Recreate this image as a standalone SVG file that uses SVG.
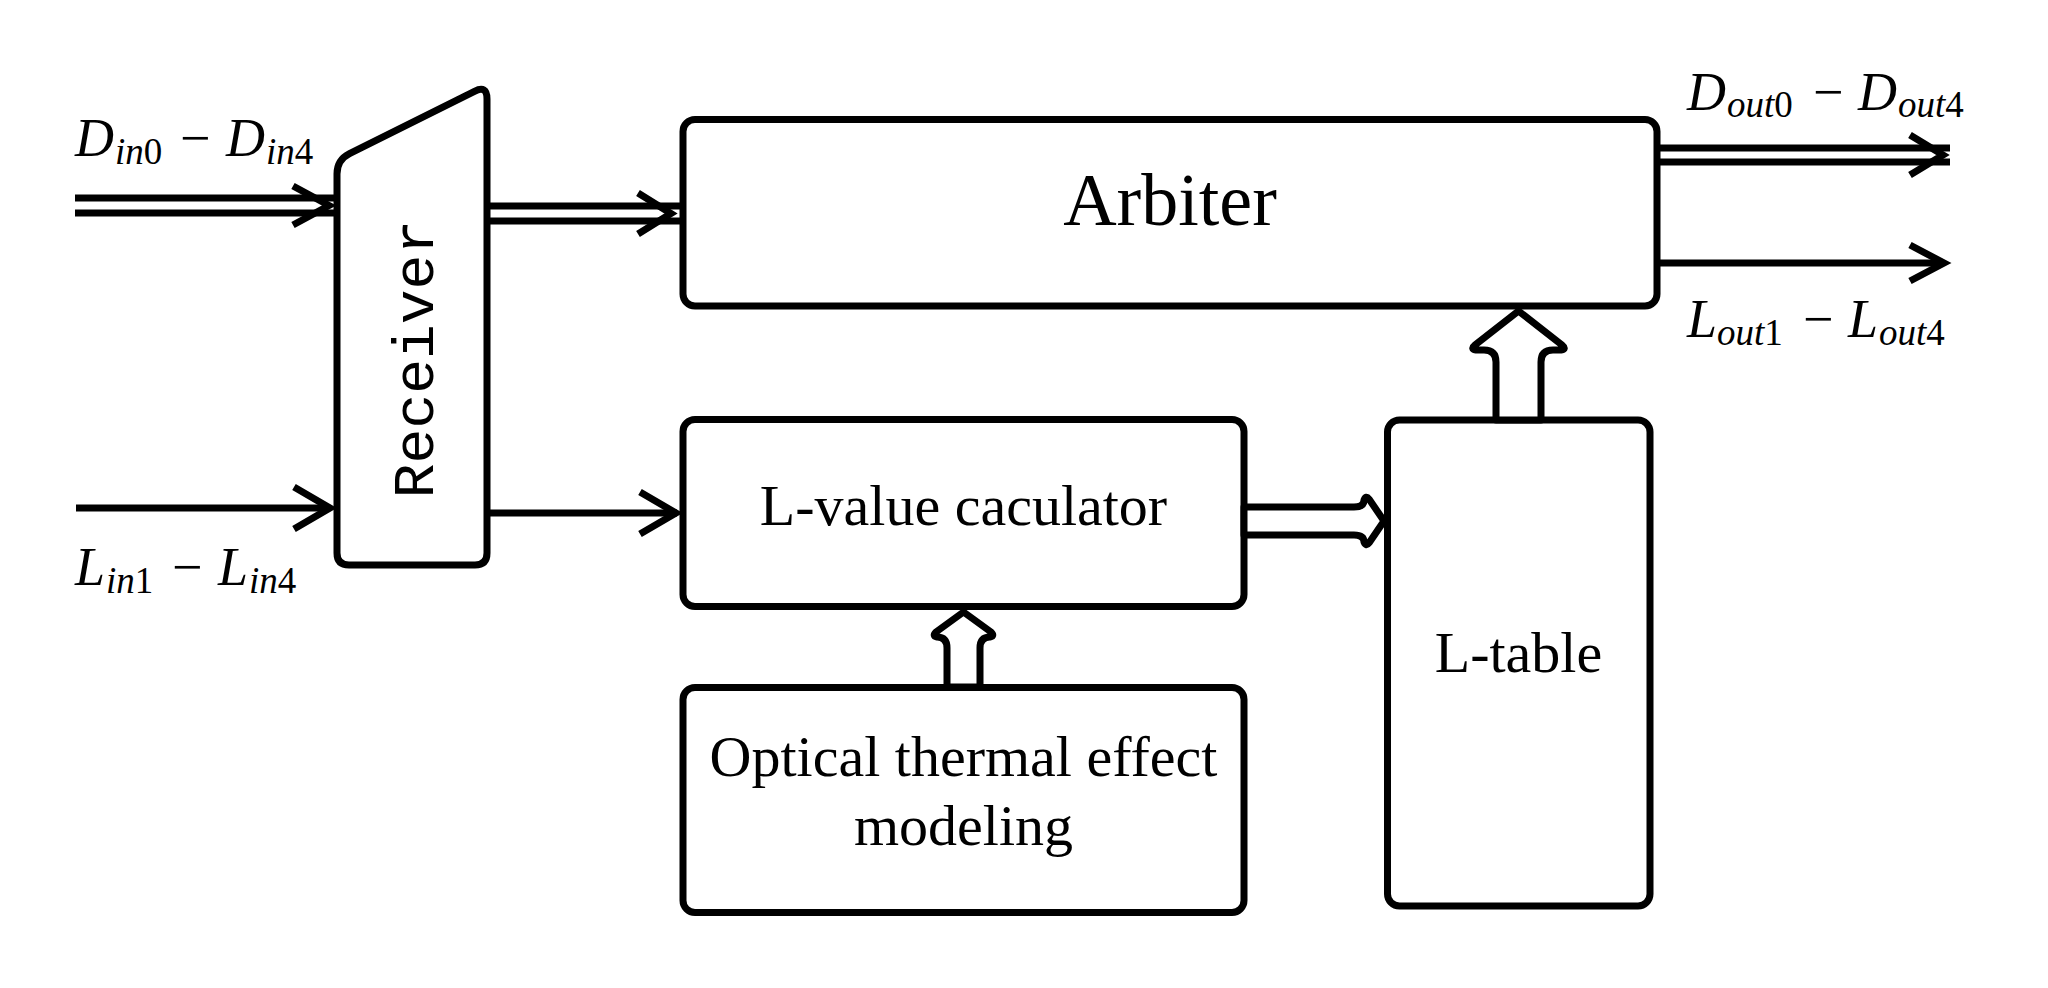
<svg xmlns="http://www.w3.org/2000/svg" width="2048" height="988" viewBox="0 0 2048 988">
<style>
.box{fill:#fff;stroke:#000;stroke-width:7}
.ln{fill:none;stroke:#000;stroke-width:7}
.hollow{fill:#fff;stroke:#000;stroke-width:7;stroke-linejoin:round}
.serif{font-family:"Liberation Serif","Times New Roman",serif;fill:#000}
.lab{font-family:"Liberation Serif","Times New Roman",serif;font-size:54px;font-style:italic;fill:#000}
.sub{font-size:37px}
.up{font-style:normal}
.mono{font-family:"Liberation Mono","Courier New",monospace;font-size:58px;fill:#000}
</style>
<rect width="2048" height="988" fill="#fff"/>

<g id="receiver">
<path class="box" stroke-linejoin="round" d="M337,174 Q337,160 349.5,153.7 L474.5,91.3 Q487,85 487,99 L487,553 Q487,565 475,565 L349,565 Q337,565 337,553 Z"/>
<text class="mono" transform="translate(433,359) rotate(-90)" text-anchor="middle">Receiver</text>
</g>

<g id="arbiter">
<rect class="box" x="683" y="119.5" width="974" height="186.5" rx="12"/>
<text class="serif" x="1170" y="225" font-size="74" text-anchor="middle">Arbiter</text>
</g>

<g id="lvalue">
<rect class="box" x="683" y="419.5" width="561" height="187" rx="12"/>
<text class="serif" x="963.5" y="525" font-size="58" text-anchor="middle">L-value caculator</text>
</g>

<g id="optical">
<rect class="box" x="683" y="687.5" width="561" height="225" rx="12"/>
<text class="serif" x="963.5" y="776" font-size="58" text-anchor="middle">Optical thermal effect</text>
<text class="serif" x="963.5" y="845" font-size="58" text-anchor="middle">modeling</text>
</g>

<g id="ltable">
<rect class="box" x="1387.5" y="420" width="262.5" height="486" rx="12"/>
<text class="serif" x="1518.5" y="672" font-size="58" text-anchor="middle">L-table</text>
</g>

<g id="connectors">
<!-- Din double arrow -->
<line class="ln" x1="75" y1="198" x2="334" y2="198"/>
<line class="ln" x1="75" y1="213" x2="334" y2="213"/>
<path class="ln" d="M293,186 L329,205.5 L293,225"/>
<!-- Receiver to Arbiter double arrow -->
<line class="ln" x1="487" y1="206" x2="682" y2="206"/>
<line class="ln" x1="487" y1="221" x2="682" y2="221"/>
<path class="ln" d="M638,193 L671,213.5 L638,234"/>
<!-- Dout double arrow -->
<line class="ln" x1="1657" y1="148" x2="1950" y2="148"/>
<line class="ln" x1="1657" y1="162" x2="1950" y2="162"/>
<path class="ln" d="M1910,135 L1943,155 L1910,175"/>
<!-- Lout arrow -->
<line class="ln" x1="1657" y1="263" x2="1944" y2="263"/>
<path class="ln" d="M1910,245 L1944,263 L1910,281"/>
<!-- Lin arrow -->
<line class="ln" x1="76" y1="508" x2="330" y2="508"/>
<path class="ln" d="M294,487 L330,508 L294,529"/>
<!-- Receiver to L-value arrow -->
<line class="ln" x1="487" y1="513" x2="677" y2="513"/>
<path class="ln" d="M640,492 L676,513 L640,534"/>
<!-- L-table to Arbiter hollow arrow -->
<path class="hollow" d="M1496,420 L1496,362 Q1496,350 1484,350 L1476,350 Q1470,349 1475,345 L1518.5,311 L1562,345 Q1567,349 1561,350 L1553,350 Q1541,350 1541,362 L1541,420 Z"/>
<!-- Optical to L-value hollow arrow -->
<path class="hollow" d="M947,687 L947,648 Q947,637 937,637 Q932,636 936,632 L963.5,612 L991,632 Q995,636 990,637 Q980,637 980,648 L980,687 Z"/>
<!-- L-value to L-table hollow arrow -->
<path class="hollow" d="M1244,507 L1354,507 Q1364,507 1364,500 Q1366,495 1369,499 L1384,521 L1369,543 Q1366,547 1364,542 Q1364,535 1354,535 L1244,535 Z"/>
</g>

<g id="labels">
<text class="lab"><tspan x="75" y="156">D</tspan><tspan class="sub" x="115" y="164">in</tspan><tspan class="sub up">0</tspan><tspan class="up" x="180" y="156">−</tspan><tspan x="226" y="156">D</tspan><tspan class="sub" x="266" y="164">in</tspan><tspan class="sub up">4</tspan></text>
<text class="lab"><tspan x="75" y="585">L</tspan><tspan class="sub" x="106" y="593">in</tspan><tspan class="sub up">1</tspan><tspan class="up" x="172" y="585">−</tspan><tspan x="218" y="585">L</tspan><tspan class="sub" x="249" y="593">in</tspan><tspan class="sub up">4</tspan></text>
<text class="lab"><tspan x="1687" y="110">D</tspan><tspan class="sub" x="1727" y="117">out</tspan><tspan class="sub up">0</tspan><tspan class="up" x="1813" y="110">−</tspan><tspan x="1858" y="110">D</tspan><tspan class="sub" x="1898" y="117">out</tspan><tspan class="sub up">4</tspan></text>
<text class="lab"><tspan x="1687" y="337">L</tspan><tspan class="sub" x="1717" y="345">out</tspan><tspan class="sub up">1</tspan><tspan class="up" x="1803" y="337">−</tspan><tspan x="1848" y="337">L</tspan><tspan class="sub" x="1879" y="345">out</tspan><tspan class="sub up">4</tspan></text>
</g>
</svg>
